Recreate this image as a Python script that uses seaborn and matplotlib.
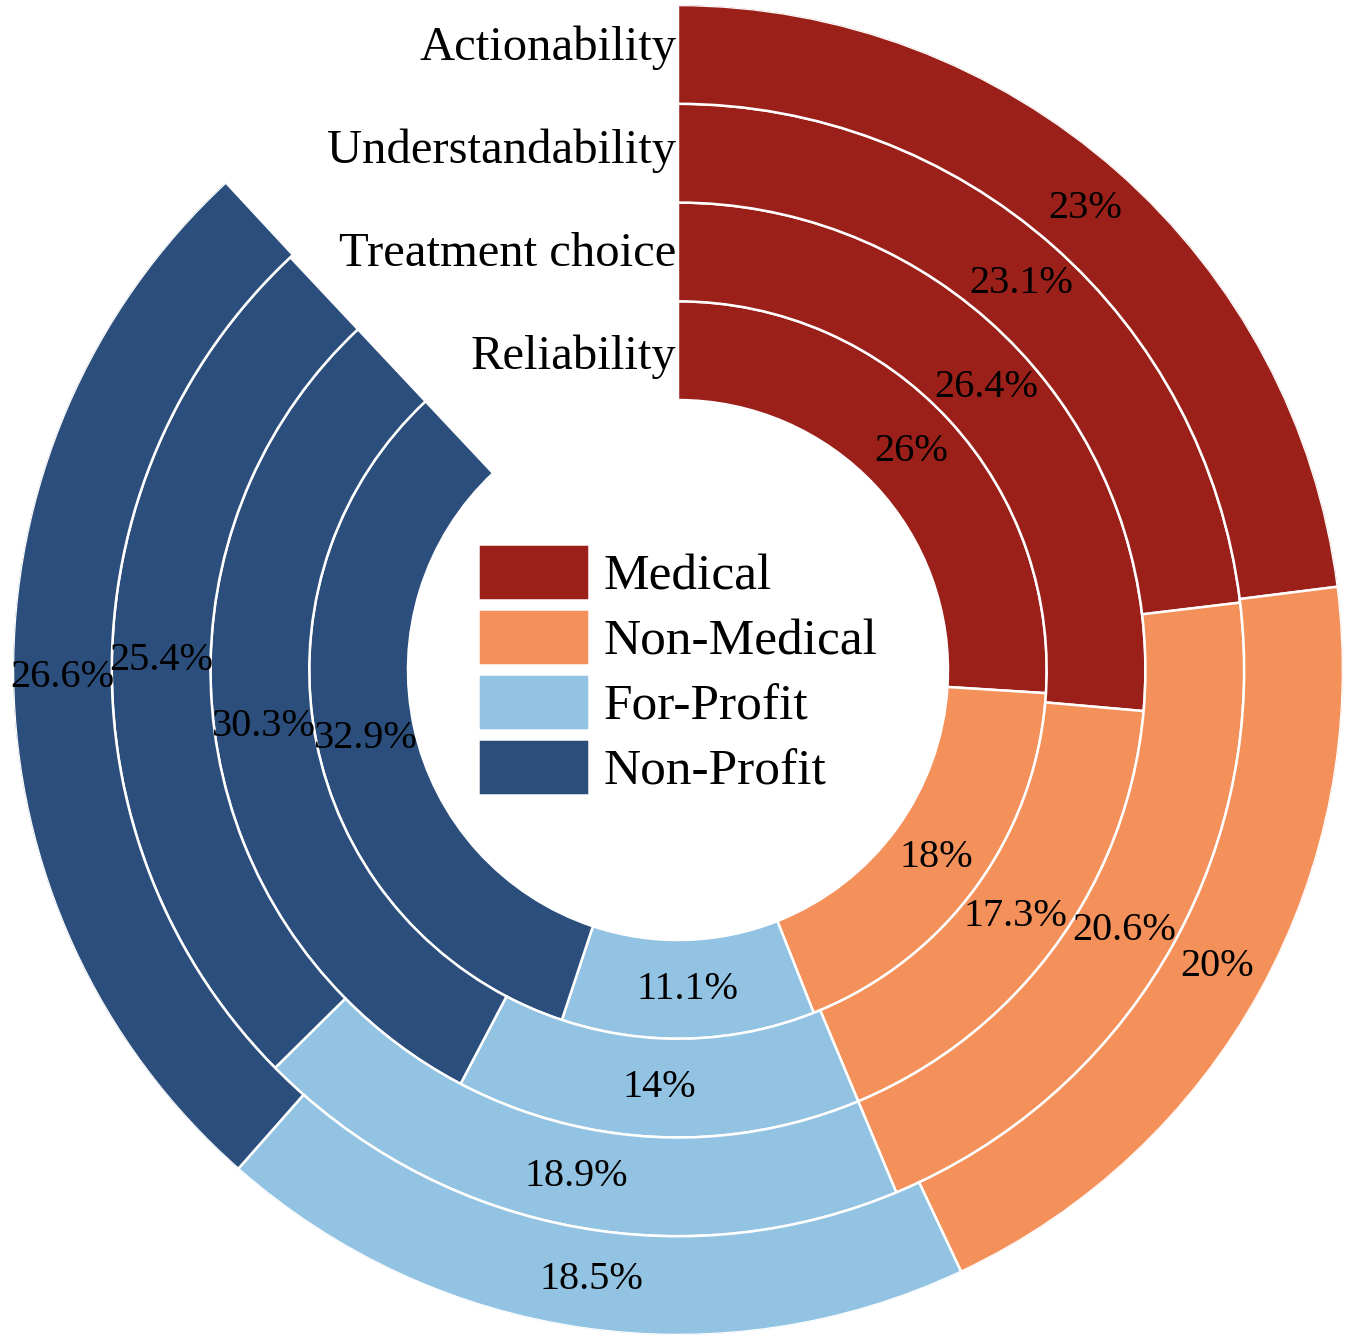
import numpy as np
import matplotlib
matplotlib.use("Agg")
import matplotlib.pyplot as plt
import seaborn as sns

# data (one ring per criterion, inner -> outer)
rings = ["Reliability", "Treatment choice", "Understandability", "Actionability"]
groups = ["Medical", "Non-Medical", "For-Profit", "Non-Profit"]
reliability = [26, 18, 11.1, 32.9]
treatment_choice = [26.4, 17.3, 14, 30.3]
understandability = [23.1, 20.6, 18.9, 25.4]
actionability = [23, 20, 18.5, 26.6]
ring_values = [reliability, treatment_choice, understandability, actionability]

sns.set_theme(style="white")
plt.rcParams["font.family"] = ["Liberation Serif", "DejaVu Serif"]

colors = sns.color_palette(["#9b2019", "#f4905a", "#93c3e2", "#2b4e7c"])

fig = plt.figure(figsize=(13.55, 13.42), dpi=100)
ax = fig.add_axes([0.0096, 0.0052, 0.9815, 0.99106], projection="polar")
ax.set_theta_zero_location("N")
ax.set_theta_direction(-1)

hole = 2.734
for i, (name, vals) in enumerate(zip(rings, ring_values)):
    start = 0.0
    for j, v in enumerate(vals):
        width = v / 100 * 2 * np.pi
        ax.bar(start, 1, width=width, bottom=hole + i, align="edge",
               color=colors[j], edgecolor="white", linewidth=1.8,
               label=groups[j] if i == 0 else None)
        ax.text(start + width / 2, hole + i + 0.5, f"{v:g}%",
                ha="center", va="center", fontsize=29, color="black")
        start += width
    ax.annotate(name, xy=(0, hole + i + 0.5), xytext=(-1, (i - 1.5) * 3),
                textcoords="offset points", ha="right", va="center",
                fontsize=35, color="black", annotation_clip=False)

ax.set_ylim(0, hole + 4)
ax.set_axis_off()

ax.legend(loc="center", bbox_to_anchor=(0.5, 0.5), frameon=False,
          fontsize=37, handlelength=2.15, handleheight=1.3,
          handletextpad=0.3, labelspacing=0.17, borderpad=0,
          labelcolor="black")

fig.savefig("out.png", dpi=100)
